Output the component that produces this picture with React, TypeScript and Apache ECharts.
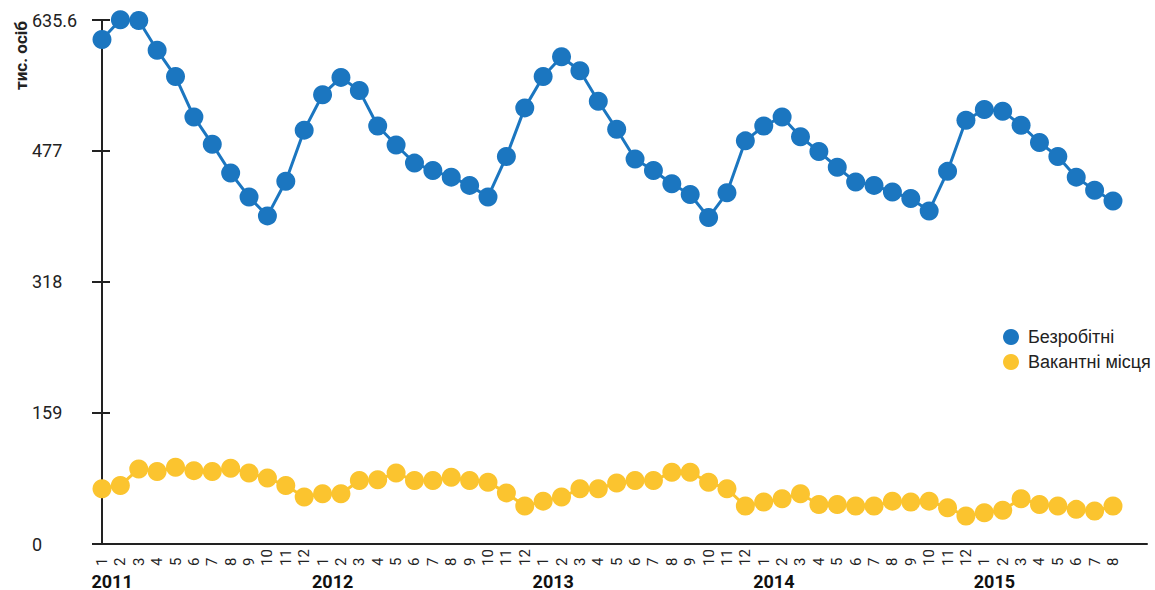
import React, { useEffect, useRef } from "react";
import * as echarts from "echarts";

const years = ["2011", "2012", "2013", "2014", "2015"];
const monthLabels = [
  "1","2","3","4","5","6","7","8","9","10","11","12",
  "1","2","3","4","5","6","7","8","9","10","11","12",
  "1","2","3","4","5","6","7","8","9","10","11","12",
  "1","2","3","4","5","6","7","8","9","10","11","12",
  "1","2","3","4","5","6","7","8",
];
const yTicks = [0, 159, 318, 477, 635.6];

const unemployed = [
  612, 636, 635, 599, 567, 518, 485, 450, 421, 398, 440, 502,
  545, 566, 550, 507, 484, 462, 453, 445, 435, 421, 470, 529,
  567, 591, 574, 537, 503, 467, 453, 437, 424, 396, 426, 489,
  507, 518, 494, 476, 457, 439, 435, 427, 419, 404, 452, 514,
  527, 525, 508, 487, 470, 445, 429, 416,
];
const vacancies = [
  67, 71, 91, 88, 93, 89, 88, 92, 86, 80, 71, 57,
  61, 61, 77, 78, 86, 77, 77, 81, 77, 75, 62, 46,
  52, 57, 67, 67, 74, 77, 77, 87, 87, 75, 67, 46,
  51, 55, 61, 48, 48, 46, 46, 52, 51, 52, 44, 34,
  38, 41, 55, 48, 46, 42, 40, 46,
];

const seriesNames = ["Безробітні", "Вакантні місця"];
const colors = ["#1b76c0", "#fbc42f"];

export default function App() {
  const ref = useRef<HTMLDivElement>(null);
  useEffect(() => {
    if (!ref.current) return;
    const chart = echarts.init(ref.current, undefined, { renderer: "svg" });
    const idx = monthLabels.map((_, i) => i);
    const yearPos = years.map((_, i) => i * 12 + 0.55);
    const xMin = -0.38;
    const xMax = 56.85;
    const font = "Roboto";
    chart.setOption({
      animation: false,
      color: colors,
      textStyle: { fontFamily: font },
      grid: { left: 95, top: 20, right: 8, bottom: 45, containLabel: false },
      legend: {
        orient: "vertical",
        left: 998,
        top: 323,
        itemWidth: 24,
        itemHeight: 16,
        itemGap: 7,
        icon: "circle",
        textStyle: { fontSize: 18, color: "#222", fontFamily: "Liberation Sans" },
        data: seriesNames,
      },
      graphic: [
        {
          type: "text",
          x: 21,
          y: 90,
          rotation: Math.PI / 2,
          style: {
            text: "тис. осіб",
            fill: "#222",
            font: "bold 17px Roboto",
            align: "left",
            verticalAlign: "middle",
          },
        },
      ],
      xAxis: [
        {
          type: "value",
          position: "bottom",
          min: xMin,
          max: xMax,
          splitLine: { show: false },
          axisTick: { show: false },
          axisLine: { show: true, onZero: false, lineStyle: { color: "#222", width: 2 } },
          axisLabel: {
            customValues: idx,
            formatter: (v: number) => monthLabels[Math.round(v)] ?? "",
            rotate: 90,
            align: "left",
            verticalAlign: "middle",
            margin: 22,
            fontSize: 15,
            color: "#222",
            fontFamily: font,
          },
        },
        {
          type: "value",
          position: "bottom",
          min: xMin,
          max: xMax,
          splitLine: { show: false },
          axisTick: { show: false },
          axisLine: { show: false },
          axisLabel: {
            customValues: yearPos,
            formatter: (v: number) => years[Math.round((v - 0.55) / 12)] ?? "",
            margin: 28,
            fontSize: 18,
            fontWeight: "bold",
            color: "#111",
            fontFamily: font,
          },
        },
      ],
      yAxis: [
        {
          type: "value",
          position: "left",
          min: 0,
          max: 635.6,
          splitLine: { show: false },
          axisLine: { show: true, lineStyle: { color: "#222", width: 2 } },
          axisTick: {
            show: true,
            customValues: yTicks,
            length: 10,
            lineStyle: { color: "#222", width: 2 },
          },
          axisLabel: {
            customValues: yTicks,
            formatter: (v: number) => String(v),
            align: "left",
            margin: 63,
            fontSize: 18,
            color: "#222",
            fontFamily: font,
          },
        },
        {
          type: "value",
          position: "left",
          min: 0,
          max: 635.6,
          splitLine: { show: false },
          axisLine: { show: false },
          axisLabel: { show: false },
          axisTick: {
            show: true,
            inside: true,
            customValues: yTicks,
            length: 8,
            lineStyle: { color: "#222", width: 2 },
          },
        },
      ],
      series: [
        {
          name: seriesNames[0],
          type: "line",
          xAxisIndex: 0,
          yAxisIndex: 0,
          clip: false,
          data: unemployed.map((v, i) => [i, v]),
          symbol: "circle",
          symbolSize: 19,
          lineStyle: { width: 3, color: colors[0] },
          itemStyle: { color: colors[0] },
        },
        {
          name: seriesNames[1],
          type: "line",
          xAxisIndex: 0,
          yAxisIndex: 0,
          clip: false,
          data: vacancies.map((v, i) => [i, v]),
          symbol: "circle",
          symbolSize: 19,
          lineStyle: { width: 3, color: colors[1] },
          itemStyle: { color: colors[1] },
        },
      ],
    });
    return () => chart.dispose();
  }, []);
  return (
    <div
      ref={ref}
      style={{ position: "absolute", left: 0, top: 0, width: 1155, height: 590 }}
    />
  );
}
